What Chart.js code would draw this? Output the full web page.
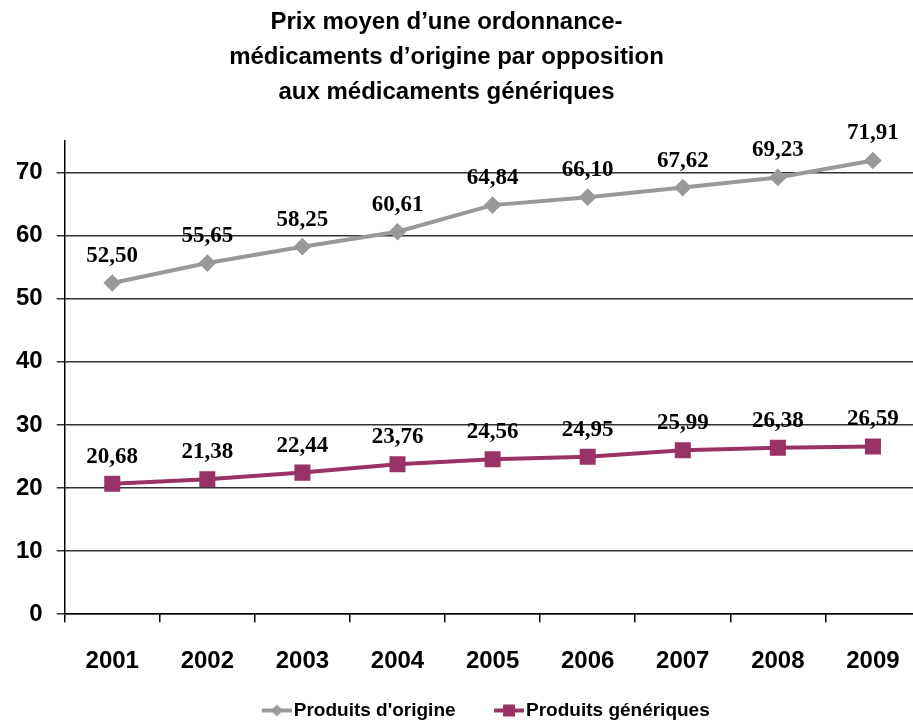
<!DOCTYPE html>
<html>
<head>
<meta charset="utf-8">
<script src="https://cdn.jsdelivr.net/npm/chart.js@4"></script>
<style>
  html, body { margin: 0; padding: 0; background: #fff; overflow: hidden; }
  #frame { width: 913px; height: 720px; overflow: hidden; position: relative; }
  #prixChart { display: block; }
</style>
</head>
<body>
<div id="frame"><canvas id="prixChart" width="933" height="730" style="width:933px;height:730px"></canvas></div>
<script>
const years = ["2001", "2002", "2003", "2004", "2005", "2006", "2007", "2008", "2009"];
const origine = [52.50, 55.65, 58.25, 60.61, 64.84, 66.10, 67.62, 69.23, 71.91];
const generiques = [20.68, 21.38, 22.44, 23.76, 24.56, 24.95, 25.99, 26.38, 26.59];
const titleLines = [
  "Prix moyen d\u2019une ordonnance-",
  "m\u00e9dicaments d\u2019origine par opposition",
  "aux m\u00e9dicaments g\u00e9n\u00e9riques"
];

const GREY = "#999999";
const PLUM = "#993366";
const FONT = "'Liberation Sans', Arial, sans-serif";

// line+marker pictures for the legend; blank space on the left gives the gap between items
function legendMark(color, shape) {
  const c = document.createElement("canvas");
  c.width = 76; c.height = 14;
  const g = c.getContext("2d");
  g.strokeStyle = color; g.fillStyle = color; g.lineWidth = 4;
  g.beginPath(); g.moveTo(46, 7); g.lineTo(76, 7); g.stroke();
  g.beginPath();
  if (shape === "diamond") {
    g.moveTo(61, 1); g.lineTo(67, 7); g.lineTo(61, 13); g.lineTo(55, 7);
  } else {
    g.rect(55, 1, 12, 12);
  }
  g.fill();
  return c;
}
const marks = [legendMark(GREY, "diamond"), legendMark(PLUM, "square")];

// title drawn a little left of centre, like the original
const leftTitle = {
  id: "leftTitle",
  afterDraw(chart) {
    const ctx = chart.ctx;
    ctx.save();
    ctx.font = "bold 24px " + FONT;
    ctx.fillStyle = "#000";
    ctx.textAlign = "center";
    ctx.textBaseline = "middle";
    titleLines.forEach((line, i) => ctx.fillText(line, chart.width / 2 - 20, 22 + i * 35));
    ctx.restore();
  }
};

// value labels above each point, French decimal comma
const valueLabels = {
  id: "valueLabels",
  afterDatasetsDraw(chart) {
    const ctx = chart.ctx;
    ctx.save();
    ctx.font = "bold 23px 'Liberation Serif', 'Times New Roman', serif";
    ctx.fillStyle = "#000";
    ctx.textAlign = "center";
    ctx.textBaseline = "middle";
    chart.data.datasets.forEach((ds, i) => {
      chart.getDatasetMeta(i).data.forEach((pt, j) => {
        ctx.fillText(ds.data[j].toFixed(2).replace(".", ","), pt.x, pt.y - 27);
      });
    });
    ctx.restore();
  }
};

window.addEventListener("load", () => {
  const ctx = document.getElementById("prixChart").getContext("2d");

  new Chart(ctx, {
    type: "line",
    data: {
      labels: years,
      datasets: [{
        label: "Produits d'origine",
        data: origine,
        borderColor: GREY,
        backgroundColor: GREY,
        borderWidth: 4,
        pointStyle: "rectRot",
        pointRadius: 6,
        pointHoverRadius: 6
      }, {
        label: "Produits g\u00e9n\u00e9riques",
        data: generiques,
        borderColor: PLUM,
        backgroundColor: PLUM,
        borderWidth: 4,
        pointStyle: "rect",
        pointRadius: 8.5,
        pointHoverRadius: 8.5
      }]
    },
    options: {
      responsive: false,
      animation: false,
      devicePixelRatio: 1,
      layout: { padding: { left: 2, right: 2, top: 141, bottom: 0 } },
      plugins: {
        title: { display: false },
        legend: {
          position: "bottom",
          labels: {
            color: "#000",
            font: { family: FONT, size: 19, weight: "bold" },
            usePointStyle: true,
            pointStyleWidth: 61,
            padding: 0,
            generateLabels(chart) {
              const items = Chart.defaults.plugins.legend.labels.generateLabels(chart);
              items.forEach((it, i) => { it.pointStyle = marks[i]; });
              return items;
            }
          }
        },
        tooltip: { enabled: false }
      },
      scales: {
        x: {
          offset: true,
          grid: { offset: true, drawOnChartArea: false, drawTicks: true, tickLength: 8, color: "#000", lineWidth: 1.5 },
          border: { color: "#000", width: 1.5 },
          ticks: {
            color: "#000",
            padding: 25,
            font: { family: FONT, size: 24, weight: "bold" }
          }
        },
        y: {
          min: 0,
          max: 75,
          grid: { color: "#333", lineWidth: 1.5, tickLength: 8 },
          border: { color: "#000", width: 1.5 },
          ticks: {
            stepSize: 10,
            includeBounds: false,
            color: "#000",
            padding: 14,
            font: { family: FONT, size: 24, weight: "bold" }
          }
        }
      }
    },
    plugins: [valueLabels, leftTitle]
  });
});
</script>
</body>
</html>
